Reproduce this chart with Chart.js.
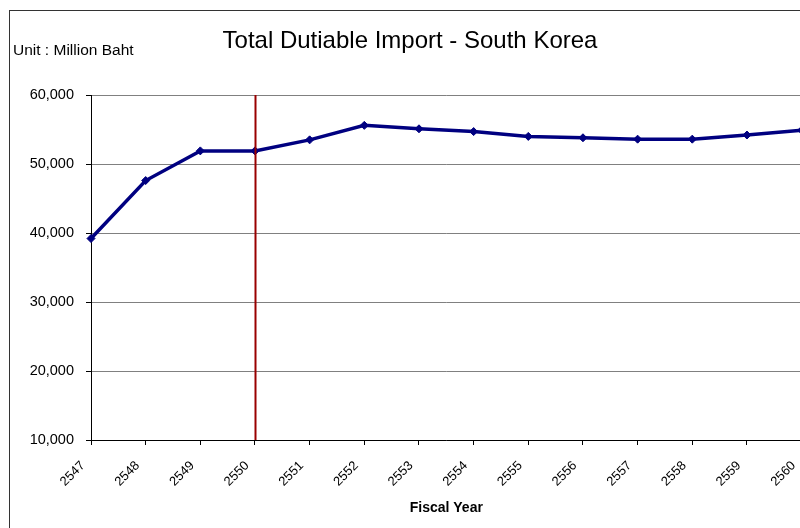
<!DOCTYPE html>
<html>
<head>
<meta charset="utf-8">
<script src="https://cdn.jsdelivr.net/npm/chart.js@4"></script>
<style>
  html, body { margin: 0; padding: 0; background: #fff; overflow: hidden; }
  #wrap { position: relative; width: 800px; height: 528px; overflow: hidden; }
  canvas { display: block; }
</style>
</head>
<body>
<div id="wrap"><canvas id="chart" width="840" height="528"></canvas></div>
<script>
const years = ["2547", "2548", "2549", "2550", "2551", "2552", "2553", "2554", "2555", "2556", "2557", "2558", "2559", "2560"];
const importValues = [39200, 47600, 51900, 51900, 53500, 55600, 55100, 54700, 54000, 53800, 53600, 53600, 54200, 54900];
const markerYear = "2550";
const titleText = "Total Dutiable Import - South Korea";
const unitText = "Unit : Million Baht";

const font = "Arial, 'Liberation Sans', sans-serif";

// frame, title, unit note and the marker line at the chosen year
const decorations = {
  id: 'decorations',
  beforeDraw(chart) {
    const ctx = chart.ctx;
    ctx.save();
    ctx.fillStyle = '#fff';
    ctx.fillRect(0, 0, chart.width, chart.height);
    ctx.strokeStyle = '#333';
    ctx.lineWidth = 1;
    ctx.strokeRect(9.5, 10.5, 2000, 2000);
    ctx.fillStyle = '#000';
    ctx.textBaseline = 'alphabetic';
    ctx.font = '24px ' + font;
    ctx.textAlign = 'center';
    ctx.fillText(titleText, 410, 48);
    ctx.font = '15.5px ' + font;
    ctx.textAlign = 'left';
    ctx.fillText(unitText, 13, 55);
    ctx.restore();
  },
  afterDatasetsDraw(chart) {
    const {ctx, chartArea, scales} = chart;
    const x = Math.round(scales.x.getPixelForValue(years.indexOf(markerYear))) + 0.5;
    ctx.save();
    ctx.strokeStyle = '#990000';
    ctx.lineWidth = 2;
    ctx.beginPath();
    ctx.moveTo(x, chartArea.top);
    ctx.lineTo(x, chartArea.bottom);
    ctx.stroke();
    ctx.restore();
  }
};

new Chart(document.getElementById('chart').getContext('2d'), {
  type: 'line',
  data: {
    labels: years,
    datasets: [{
      data: importValues,
      borderColor: '#000080',
      backgroundColor: '#000080',
      borderWidth: 3.5,
      pointStyle: 'rectRot',
      pointRadius: 4,
      pointBorderWidth: 1,
      tension: 0,
      clip: false
    }]
  },
  options: {
    responsive: false,
    animation: false,
    layout: { padding: { top: 95, right: 38.4, left: 0, bottom: 0 } },
    plugins: {
      legend: { display: false },
      title: { display: false },
      tooltip: { enabled: false }
    },
    scales: {
      x: {
        type: 'category',
        offset: false,
        afterFit: (s) => { s.height = 88; },
        grid: { drawOnChartArea: false, drawTicks: true, tickLength: 5, tickColor: '#000' },
        border: { color: '#000', width: 1 },
        ticks: {
          color: '#000',
          font: { family: font, size: 13 },
          maxRotation: 45,
          minRotation: 45,
          padding: 13,
          labelOffset: -8,
          autoSkip: false
        },
        title: {
          display: true,
          text: 'Fiscal Year',
          color: '#000',
          font: { family: font, size: 14, weight: 'bold' },
          padding: { top: 0, bottom: 11 }
        }
      },
      y: {
        min: 10000,
        max: 60000,
        afterFit: (s) => { s.width = 91; },
        grid: { color: '#808080', lineWidth: 1, tickLength: 5, tickColor: '#000' },
        border: { color: '#000', width: 1 },
        ticks: {
          stepSize: 10000,
          color: '#000',
          font: { family: font, size: 14.5 },
          padding: 12,
          callback: (v) => v.toLocaleString('en-US')
        }
      }
    }
  },
  plugins: [decorations]
});
</script>
</body>
</html>
